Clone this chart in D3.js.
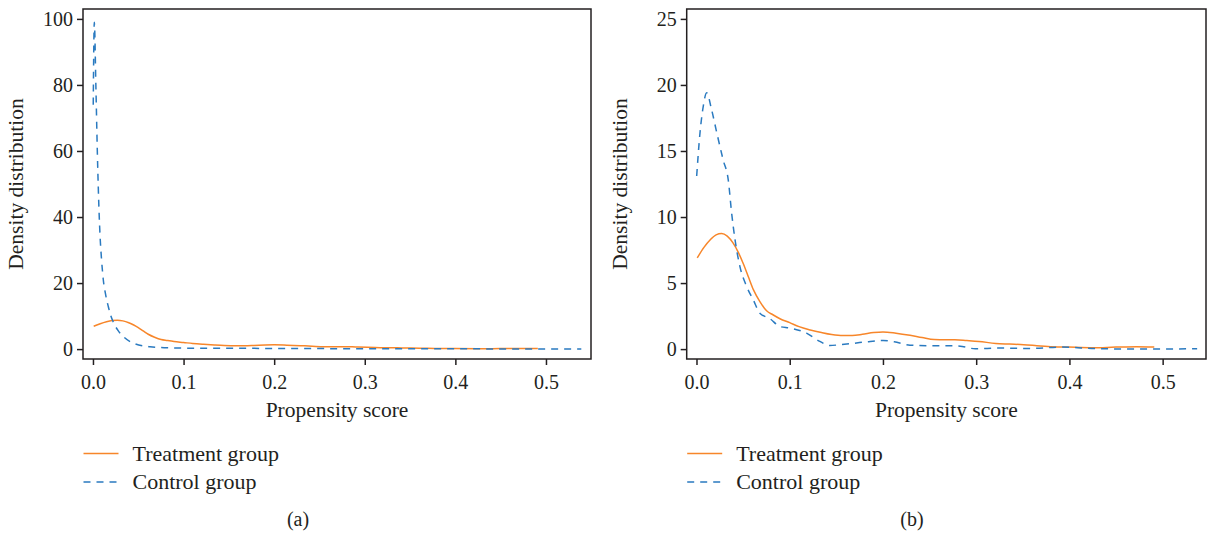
<!DOCTYPE html>
<html>
<head>
<meta charset="utf-8">
<script src="https://cdn.jsdelivr.net/npm/d3@7"></script>
<style>
  body { margin: 0; background: #fff; }
  svg text { font-family: "Liberation Serif", "DejaVu Serif", serif; fill: #231f20; }
</style>
</head>
<body>
<svg></svg>
<script>
// propensity score / density pairs
const treatment = [
  [0.0008, 6.9], [0.008, 7.7], [0.015, 8.3], [0.021, 8.65], [0.027, 8.75], [0.033, 8.55],
  [0.0395, 8.0], [0.045, 7.3], [0.050, 6.5], [0.0555, 5.5], [0.061, 4.5], [0.068, 3.6],
  [0.0752, 2.9], [0.082, 2.6], [0.0895, 2.3], [0.1, 2.0], [0.11, 1.7], [0.122, 1.45],
  [0.134, 1.25], [0.145, 1.1], [0.157, 1.02], [0.167, 1.03], [0.178, 1.12], [0.19, 1.25],
  [0.2, 1.3], [0.214, 1.2], [0.229, 1.04], [0.242, 0.87], [0.255, 0.72], [0.267, 0.7],
  [0.277, 0.71], [0.29, 0.65], [0.303, 0.58], [0.321, 0.43], [0.336, 0.38], [0.351, 0.33],
  [0.365, 0.26], [0.377, 0.2], [0.399, 0.15], [0.425, 0.1], [0.45, 0.15], [0.472, 0.18],
  [0.491, 0.15]
]

const controlBefore = [
  [0.0003, 74], [0.0015, 99], [0.0032, 80], [0.0048, 60], [0.0062, 46], [0.0077, 35],
  [0.0095, 27], [0.0114, 21], [0.014, 16.5], [0.0169, 12.9], [0.0195, 10.3], [0.0224, 8.2],
  [0.028, 5.5], [0.0335, 3.8], [0.0445, 1.8], [0.063, 0.7], [0.081, 0.4], [0.1, 0.3],
  [0.15, 0.25], [0.2, 0.2], [0.25, 0.15], [0.3, 0.12], [0.35, 0.1], [0.4, 0.08],
  [0.45, 0.06], [0.5, 0.05], [0.539, 0.04]
]

const controlAfter = [
  [0.0002, 13.1], [0.0038, 16.4], [0.0073, 18.4], [0.0109, 19.4], [0.0163, 18.1],
  [0.0217, 16.4], [0.0287, 14.3], [0.0341, 12.8], [0.0377, 10.3], [0.0413, 8.3],
  [0.0466, 6.25], [0.0538, 4.74], [0.0609, 3.73], [0.068, 2.72], [0.0788, 2.3],
  [0.0895, 1.71], [0.1002, 1.59], [0.118, 1.21], [0.1323, 0.58], [0.143, 0.27],
  [0.1538, 0.33], [0.17, 0.45], [0.1824, 0.55], [0.2002, 0.65], [0.212, 0.55],
  [0.229, 0.3], [0.251, 0.25], [0.273, 0.25], [0.285, 0.2], [0.299, 0.02], [0.325, 0.08],
  [0.358, 0.05], [0.391, 0.15], [0.432, 0.03], [0.487, 0.0], [0.537, 0.03]
]

const xTicks = [0, 0.1, 0.2, 0.3, 0.4, 0.5]
const yTicksA = [0, 20, 40, 60, 80, 100]
const yTicksB = [0, 5, 10, 15, 20, 25]
const seriesNames = ["Treatment group", "Control group"]
const xTitle = "Propensity score"
const yTitle = "Density distribution"

const orange = "#f7862a"
const blue = "#2a7ac0"
const ink = "#231f20"

const svg = d3.select("svg")
  .attr("width", 1208)
  .attr("height", 535)

const panels = [
  { left: 83, right: 591, xDomain: [-0.011, 0.5497], yDomain: [-3, 103], yTicks: yTicksA,
    control: controlBefore, caption: "(a)", captionX: 298 },
  { left: 686.7, right: 1206, xDomain: [-0.0105, 0.5465], yDomain: [-0.75, 25.75], yTicks: yTicksB,
    control: controlAfter, caption: "(b)", captionX: 912 }
]
const plotTop = 9, plotBottom = 359

panels.forEach((p) => {
  const g = svg.append("g")

  const x = d3.scaleLinear().domain(p.xDomain).range([p.left, p.right])
  const y = d3.scaleLinear().domain(p.yDomain).range([plotBottom, plotTop])

  const line = d3.line()
    .x((d) => x(d[0]))
    .y((d) => y(d[1]))
    .curve(d3.curveMonotoneX)

  g.append("path")
    .attr("d", line(treatment))
    .attr("fill", "none")
    .attr("stroke", orange)
    .attr("stroke-width", 1.5)

  g.append("path")
    .attr("d", line(p.control))
    .attr("fill", "none")
    .attr("stroke", blue)
    .attr("stroke-width", 1.5)
    .attr("stroke-dasharray", "7,6")

  const xAxis = g.append("g")
    .attr("transform", `translate(0, ${plotBottom})`)
    .call(d3.axisBottom(x).tickValues(xTicks).tickFormat(d3.format(".1f"))
      .tickSizeInner(6).tickSizeOuter(0).tickPadding(10))
  const yAxis = g.append("g")
    .attr("transform", `translate(${p.left}, 0)`)
    .call(d3.axisLeft(y).tickValues(p.yTicks).tickSizeInner(6).tickSizeOuter(0).tickPadding(4))

  ;[xAxis, yAxis].forEach((a) => {
    a.select(".domain").remove()
    a.selectAll("line").attr("stroke", ink).attr("stroke-width", 1.5)
    a.selectAll("text").attr("font-size", 20).attr("font-family", null).attr("fill", ink)
  })

  g.append("rect")
    .attr("x", p.left)
    .attr("y", plotTop)
    .attr("width", p.right - p.left)
    .attr("height", plotBottom - plotTop)
    .attr("fill", "none")
    .attr("stroke", ink)
    .attr("stroke-width", 1.5)

  g.append("text")
    .attr("x", (p.left + p.right) / 2)
    .attr("y", 417)
    .attr("text-anchor", "middle")
    .attr("font-size", 21.5)
    .text(xTitle)

  g.append("text")
    .attr("transform", `translate(${p.left - 60}, ${(plotTop + plotBottom) / 2}) rotate(-90)`)
    .attr("text-anchor", "middle")
    .attr("font-size", 21.5)
    .text(yTitle)

  const legend = g.append("g").attr("transform", `translate(${p.left + 0.5}, 0)`)
  seriesNames.forEach((name, i) => {
    const ly = 453.5 + i * 28.5
    legend.append("line")
      .attr("x1", 0).attr("x2", 35)
      .attr("y1", ly).attr("y2", ly)
      .attr("stroke", i === 0 ? orange : blue)
      .attr("stroke-width", 1.5)
      .attr("stroke-dasharray", i === 0 ? null : "7,6")
    legend.append("text")
      .attr("x", 49)
      .attr("y", ly + 7)
      .attr("font-size", 22)
      .text(name)
  })

  g.append("text")
    .attr("x", p.captionX)
    .attr("y", 526)
    .attr("text-anchor", "middle")
    .attr("font-size", 20)
    .text(p.caption)
})
</script>
</body>
</html>
